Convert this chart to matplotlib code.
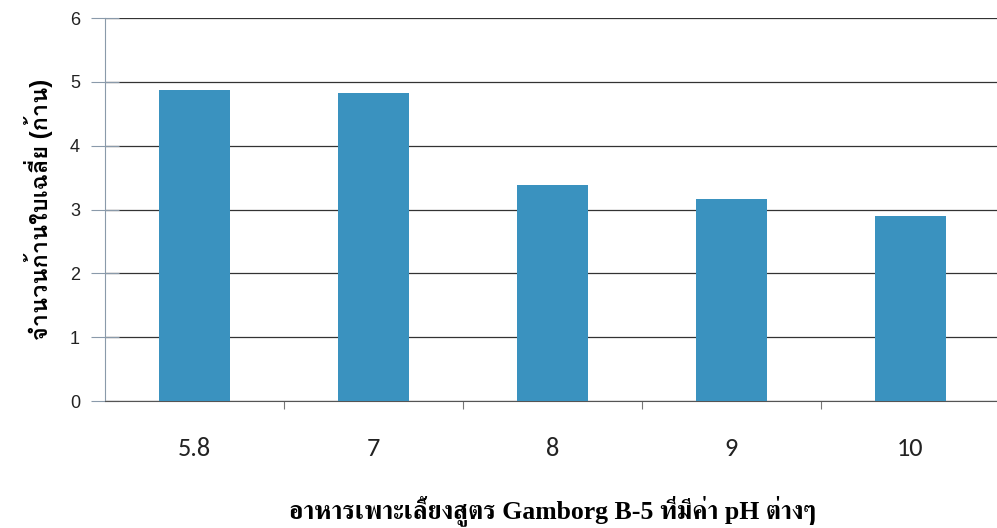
import matplotlib
matplotlib.use("Agg")
import matplotlib.pyplot as plt
from matplotlib import font_manager
from fontTools.ttLib import TTFont

# ข้อมูล: ค่า pH และจำนวนก้านใบเฉลี่ย
ph_labels = ["5.8", "7", "8", "9", "10"]
mean_petioles = [4.87, 4.83, 3.39, 3.17, 2.90]
y_ticks = [0, 1, 2, 3, 4, 5, 6]

x_title = "อาหารเพาะเลี้ยงสูตร Gamborg B-5 ที่มีค่า pH ต่างๆ"
y_title = "จำนวนก้านใบเฉลี่ย (ก้าน)"


def find_thai_fonts():
    # หาฟอนต์ในเครื่องที่มีอักษรไทย
    serif, sans = [], []
    for path in sorted(font_manager.findSystemFonts()):
        try:
            f = TTFont(path, fontNumber=0, lazy=True)
            cmap = f.getBestCmap()
        except Exception:
            continue
        if not cmap or 0x0E08 not in cmap:
            continue
        name = font_manager.FontProperties(fname=path).get_name()
        if "Serif" in name or "Looped" in name:
            serif.append(name)
        else:
            sans.append(name)
    return serif, sans


thai_serif, thai_sans = find_thai_fonts()
serif_fam = ["Liberation Serif"] + thai_serif + thai_sans + ["DejaVu Sans"]
sans_fam = ["Liberation Sans"] + thai_sans + thai_serif + ["DejaVu Sans"]

fig = plt.figure(figsize=(9.97, 5.28), dpi=100)
ax = fig.add_axes([0.1053, 0.2405, 0.8977, 0.7254])

x = range(len(ph_labels))
ax.bar(x, mean_petioles, width=0.40, color="#3a92bf", zorder=3)

ax.set_xlim(-0.5, len(ph_labels) - 0.5)
ax.set_ylim(0, 6)
ax.set_yticks(y_ticks)
ax.set_yticklabels([str(v) for v in y_ticks], fontsize=13,
                   family=["Liberation Sans"], color="#222222")
ax.yaxis.grid(True, color="#333333", linewidth=0.9, zorder=0)
ax.tick_params(axis="y", direction="inout", length=20, width=0.8,
               color="#8a9aaa", pad=8)

ax.set_xticks(list(x))
ax.set_xticklabels(ph_labels, fontsize=19, family=["Carlito", "Lato", "DejaVu Sans"],
                   color="#222222")
ax.set_xticks([i + 0.5 for i in range(len(ph_labels) - 1)], minor=True)
ax.tick_params(axis="x", which="major", length=0, pad=26)
ax.tick_params(axis="x", which="minor", length=6, width=0.8,
               color="#777777", direction="out")

for side in ["top", "right"]:
    ax.spines[side].set_visible(False)
ax.spines["left"].set_color("#8a9aaa")
ax.spines["bottom"].set_color("#555555")

ax.set_xlabel(x_title, fontsize=18.5, fontweight="bold", family=serif_fam,
              labelpad=25)
ax.set_ylabel(y_title, fontsize=17, fontweight="bold", family=sans_fam,
              labelpad=12)

fig.savefig("out.png", dpi=100, facecolor="white")
